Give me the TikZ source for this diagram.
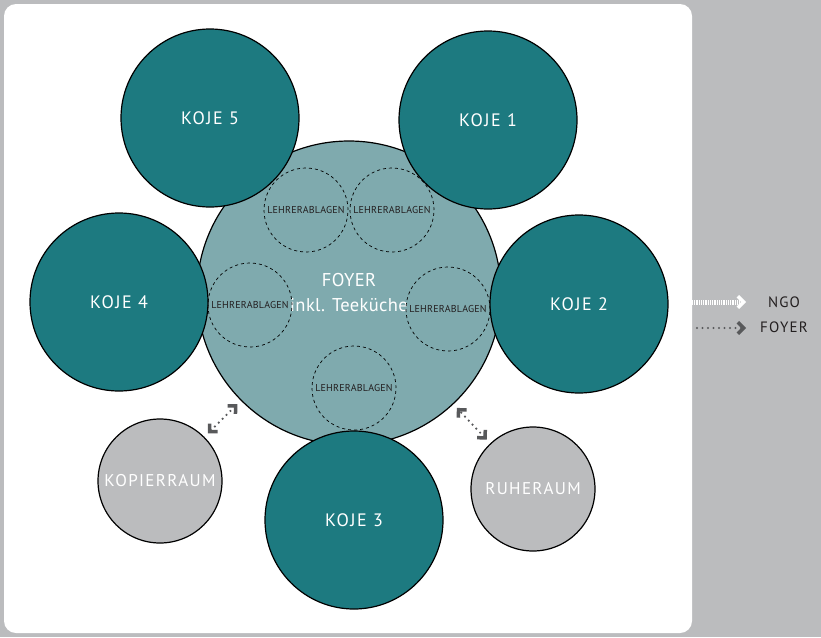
\documentclass[tikz,border=0pt]{standalone}
\usepackage{fontspec}
\setmainfont{PT Sans}[LetterSpace=8]
\newfontfamily\ablagefont{PT Sans}[LetterSpace=2]
\newfontfamily\foyerfont{PT Sans}[LetterSpace=2]
\usetikzlibrary{arrows.meta}

\definecolor{kojeteal}{HTML}{1D7A80}
\definecolor{foyerteal}{HTML}{7FAAAE}
\definecolor{raumgrau}{HTML}{BBBCBE}
\definecolor{pfeilgrau}{HTML}{58595B}
\definecolor{textdunkel}{HTML}{231F20}

\tikzset{
  raum/.style={circle, draw=black, line width=1.2pt, inner sep=0pt, text=white,
    font=\fontsize{18}{25}\selectfont},
  koje/.style={raum, fill=kojeteal, minimum size=178pt},
  nebenraum/.style={raum, fill=raumgrau, minimum size=124pt,
    font=\fontsize{17}{20}\selectfont},
  ablage/.style={circle, draw=black, dashed, line width=0.7pt, minimum size=84pt,
    inner sep=0pt, text=textdunkel, font=\ablagefont\fontsize{10}{12}\selectfont},
  barb/.tip={Straight Barb[angle=90:8pt, line width=3.5pt]},
  wegpfeil/.style={pfeilgrau, line width=2.4pt, line cap=round,
    dash pattern=on 0pt off 5.5pt, shorten <=5pt, shorten >=5pt, barb-barb},
  legende/.style={text=textdunkel, font=\fontsize{15}{17}\selectfont}
}

\begin{document}
\begin{tikzpicture}[x=1pt, y=-1pt]

    % Hintergrund
    \useasboundingbox (0,0) rectangle (821,637);
    \fill[raumgrau] (0,0) rectangle (821,637);
    \fill[white, rounded corners=12pt] (4,4) rectangle (692,633);

    % Foyer
    \node[raum, fill=foyerteal, minimum size=304pt, align=center,
      font=\foyerfont\fontsize{18.5}{25}\selectfont] (foyer) at (349,293) {FOYER\\inkl. Teeküche};

    % Kojen
    \node[koje] (koje1) at (488,120) {KOJE 1};
    \node[koje] (koje2) at (579,304) {KOJE 2};
    \node[koje] (koje3) at (354,520) {KOJE 3};
    \node[koje] (koje4) at (119,302) {KOJE 4};
    \node[koje] (koje5) at (210,118) {KOJE 5};

    % Nebenraeume
    \node[nebenraum] (kopie) at (160,481) {KOPIERRAUM};
    \node[nebenraum] (ruhe) at (533,489) {RUHERAUM};

    % Lehrerablagen
    \foreach \n/\x/\y in {a/306/210, b/392/210, c/250/305, d/448/309, e/354/388} {
        \node[ablage] (ablage\n) at (\x,\y) {LEHRERABLAGEN};
    }

    % Wege zum Foyer
    \draw[wegpfeil] (kopie) -- (foyer);
    \draw[wegpfeil] (ruhe) -- (foyer);

    % Legende
    \coordinate (ngoA) at (692,302);
    \coordinate (ngoB) at (746,302);
    \coordinate (foyerA) at (697,328);
    \coordinate (foyerB) at (746,328);
    \draw[white, line width=5pt, dash pattern=on 1pt off 0.8pt, -barb] (ngoA) -- (ngoB);
    \draw[pfeilgrau, line width=2.4pt, line cap=round, dash pattern=on 0pt off 5.5pt, -barb] (foyerA) -- (foyerB);
    \node[legende] (ngo) at (784,302) {NGO};
    \node[legende] (foyerlabel) at (784,327) {FOYER};

\end{tikzpicture}
\end{document}
